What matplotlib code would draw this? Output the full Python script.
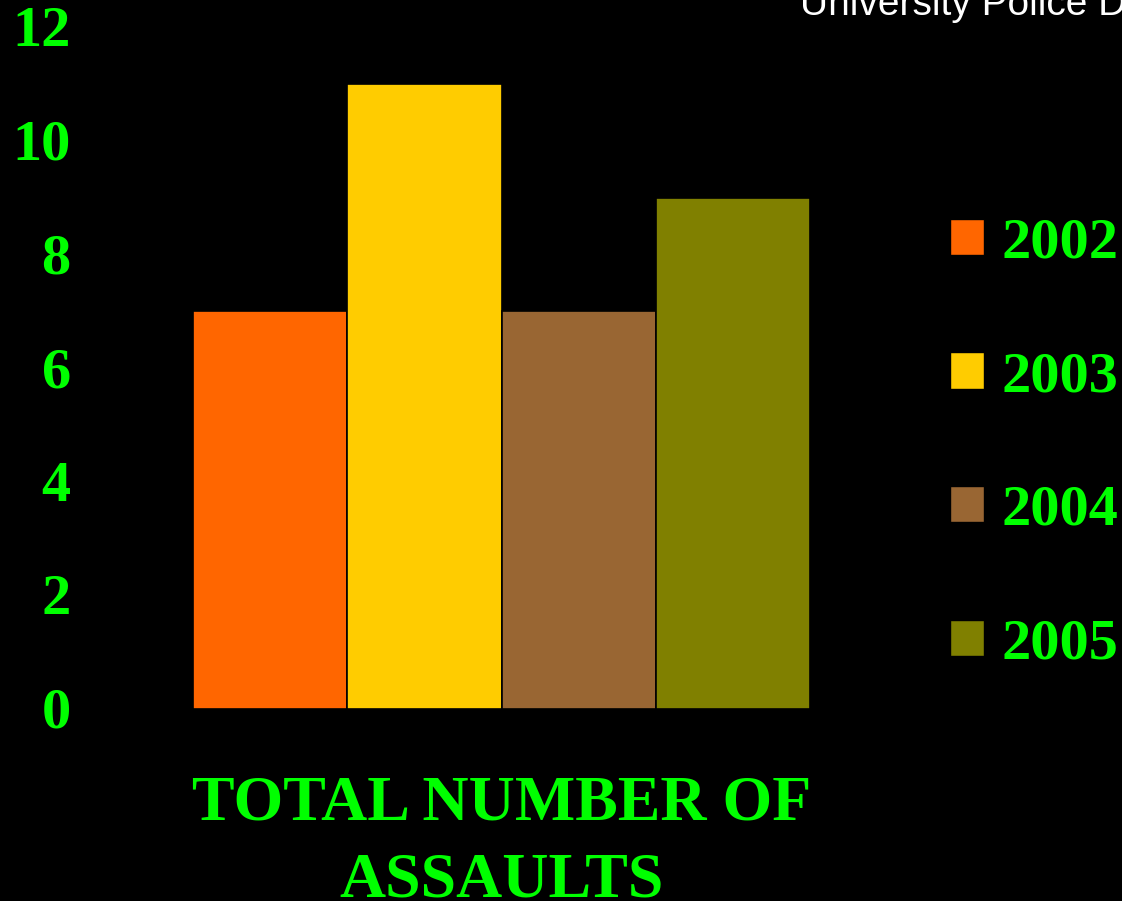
import matplotlib.pyplot as plt
import matplotlib.transforms as mtransforms
from matplotlib.patches import Patch

# Total number of assaults per year
years = ['2002', '2003', '2004', '2005']
assaults = [7, 11, 7, 9]
colors = ['#FF6600', '#FFCC00', '#996633', '#808000']
yticks = [0, 2, 4, 6, 8, 10, 12]

green = '#00FF00'
serif = ['Liberation Serif', 'DejaVu Serif']

fig = plt.figure(figsize=(11.22, 9.01), dpi=100, facecolor='black')
ax = fig.add_axes([193 / 1122, 192 / 901, 617 / 1122, 682 / 901])
ax.set_facecolor('black')

x = list(range(len(years)))
ax.bar(x, assaults, width=1.0, color=colors, edgecolor='black', linewidth=1.2)

ax.set_xlim(-0.5, 3.5)
ax.set_ylim(0, 12)
ax.set_yticks(yticks)
ax.set_yticklabels([str(t) for t in yticks], fontsize=42, fontweight='bold',
                   family=serif, color=green, va='center')
ax.tick_params(axis='y', length=0, pad=88)
ax.set_xticks([])
for s in ax.spines.values():
    s.set_visible(False)

# nudge y tick labels a bit downward like the original
offset = mtransforms.ScaledTranslation(0, -5 / 100, fig.dpi_scale_trans)
for lbl in ax.get_yticklabels():
    lbl.set_transform(lbl.get_transform() + offset)

ax.set_xlabel('TOTAL NUMBER OF\nASSAULTS', fontsize=46, fontweight='bold',
              family=serif, color=green, labelpad=48, linespacing=1.42)

handles = [Patch(facecolor=c, edgecolor='black') for c in colors]
leg = fig.legend(handles, years, loc='center left',
                 bbox_to_anchor=(950 / 1122, 1 - 444 / 901),
                 frameon=False, fontsize=42, handlelength=0.58, handleheight=0.58,
                 handletextpad=0.3, labelspacing=1.4, borderaxespad=0, borderpad=0)
for t in leg.get_texts():
    t.set_color(green)
    t.set_fontweight('bold')
    t.set_family(serif)

fig.text(800 / 1122, 1 - 15 / 901, 'University Police Department', color='white',
         fontsize=28, family=['Liberation Sans', 'DejaVu Sans'], va='baseline', ha='left')

fig.savefig('out.png', dpi=100, facecolor='black')
